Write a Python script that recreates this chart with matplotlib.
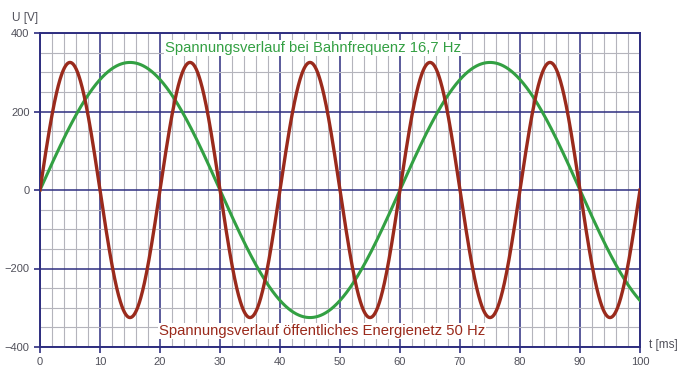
import numpy as np
import matplotlib.pyplot as plt
from matplotlib.ticker import MultipleLocator

# curve parameters
amplitude = 325.0          # V (peak of 230 V rms)
freqNetz = 50.0            # Hz, public grid
freqBahn = 50.0 / 3.0      # Hz, railway grid (16,7 Hz)
tStart, tEnd = 0.0, 100.0  # ms

labelBahn = "Spannungsverlauf bei Bahnfrequenz 16,7 Hz"
labelNetz = "Spannungsverlauf öffentliches Energienetz 50 Hz"

navy = "#2e2e80"
red = "#9a2a1c"
green = "#33a043"

t = np.linspace(tStart, tEnd, 2001)
uNetz = amplitude * np.sin(2 * np.pi * freqNetz * t / 1000.0)
uBahn = amplitude * np.sin(2 * np.pi * freqBahn * t / 1000.0)

plt.rcParams['font.family'] = ['Liberation Sans', 'DejaVu Sans']

fig = plt.figure(figsize=(6.78, 3.76), dpi=100)
ax = fig.add_axes([40 / 678, 1 - 347 / 376, 600 / 678, 314 / 376])

ax.set_xlim(tStart, tEnd)
ax.set_ylim(-400, 400)
ax.xaxis.set_major_locator(MultipleLocator(10))
ax.xaxis.set_minor_locator(MultipleLocator(2))
ax.yaxis.set_major_locator(MultipleLocator(200))
ax.yaxis.set_minor_locator(MultipleLocator(50))

ax.grid(which='minor', color='#b4b4bc', linewidth=0.8)
ax.grid(which='major', color=navy, linewidth=1.1)
ax.set_axisbelow(True)
for side in ax.spines.values():
    side.set_color(navy)
    side.set_linewidth(1.4)

ax.tick_params(which='major', direction='out', length=4, color=navy,
               width=1.2, labelsize=8, labelcolor='#50505a')
ax.tick_params(which='minor', length=0)

ax.plot(t, uBahn, color=green, linewidth=2.2, zorder=3)
ax.plot(t, uNetz, color=red, linewidth=2.4, zorder=4)

box = dict(facecolor='white', edgecolor='none', pad=1.0)
ax.text(45.5, 362, labelBahn, color=green, fontsize=10.7, ha='center',
        va='center', bbox=box, zorder=5)
ax.text(47, -359, labelNetz, color=red, fontsize=10.7, ha='center',
        va='center', bbox=box, zorder=5)

fig.text(12 / 678, 1 - 18 / 376, "U [V]", fontsize=8.5, color='#50505a',
         ha='left', va='center')
fig.text(649 / 678, 1 - 345 / 376, "t [ms]", fontsize=8.5, color='#50505a',
         ha='left', va='center')

fig.savefig("out.png", dpi=100)
